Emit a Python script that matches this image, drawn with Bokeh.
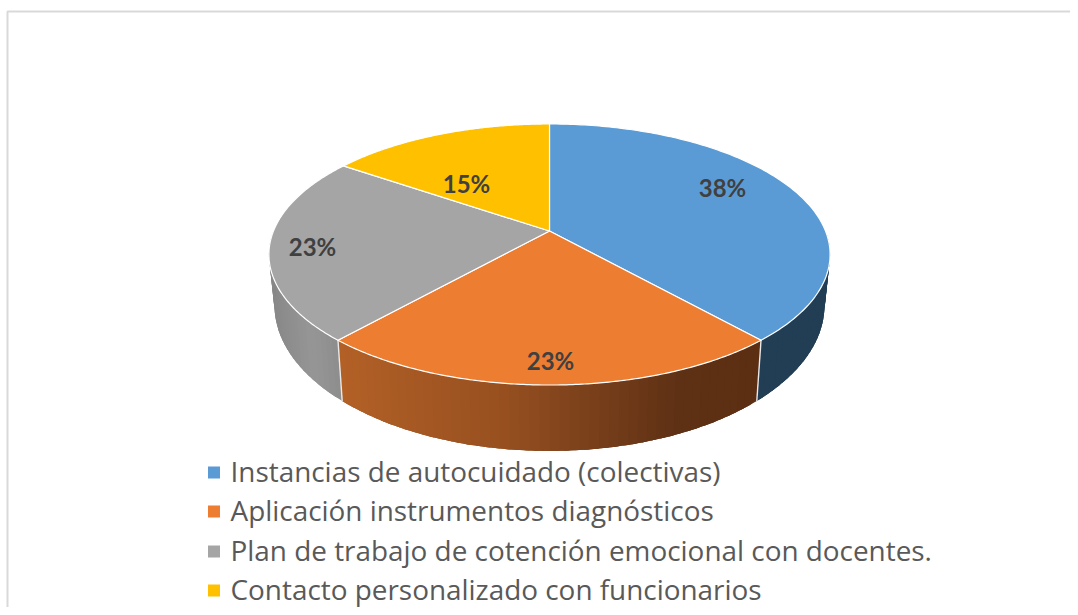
import numpy as np
from bokeh.plotting import figure
from bokeh.models import Range1d
from bokeh.core.properties import value
from bokeh.embed import file_html
from bokeh.resources import INLINE

categories = ["Instancias de autocuidado (colectivas)",
              "Aplicación instrumentos diagnósticos",
              "Plan de trabajo de cotención emocional con docentes.",
              "Contacto personalizado con funcionarios"]
values = [5, 3, 3, 2]
labels = ["38%", "23%", "23%", "15%"]
colors = ["#5B9BD5", "#ED7D31", "#A5A5A5", "#FFC000"]

W, H = 1070, 607
p = figure(width=W, height=H, output_backend="svg", toolbar_location=None,
           x_range=Range1d(0, W), y_range=Range1d(H, 0),
           min_border=0, outline_line_color=None, background_fill_color="white")
p.axis.visible = False
p.grid.visible = False

# chart-area frame
p.line([7, 7, W], [H, 11, 11], line_color="#D9D9D9", line_width=2)

# perspective of the pie disc
CX, TOP_Y, K, A, C = 549.0, 230.5, 276.0, 126.3, 0.18
BOT_Y, K2, A2 = 278.5, 270.5, 141.0

def rim(th, cy, k, a):
    x, y = np.sin(th), np.cos(th)
    d = 1 + C * y
    return CX + k * x / d, cy - a * y / d

def top(th):
    return rim(th, TOP_Y, K, A)

def low(th):
    return rim(th, BOT_Y, K2, A2)

def lerp(stops, t):
    xs = [s[0] for s in stops]
    return "#%02x%02x%02x" % tuple(int(round(np.interp(t, xs, [s[1][i] for s in stops]))) for i in range(3))

wall_stops = [
    [(270, (34, 62, 85)), (828, (34, 62, 85))],
    [(340, (178, 96, 38)), (500, (152, 80, 32)), (600, (118, 62, 26)), (680, (94, 48, 20)), (763, (92, 46, 18))],
    [(270, (136, 136, 136)), (310, (150, 150, 150)), (345, (138, 138, 138))],
    [(270, (130, 100, 0)), (828, (130, 100, 0))],
]

fr = np.cumsum([0] + values) / sum(values) * 2 * np.pi
VIS_A, VIS_B = np.pi / 2, 3 * np.pi / 2

# side walls: every strip reaches past its neighbour and the next one paints over it
for i in range(len(values)):
    a, b = max(fr[i], VIS_A), min(fr[i + 1], VIS_B)
    if b <= a:
        continue
    n = max(2, int((b - a) / 0.03))
    ths = np.linspace(a, b, n + 1)
    for j in range(n):
        t0 = ths[j]
        seg = np.linspace(t0, min(ths[j] + 2.5 * (b - a) / n, b), 6)
        tx, ty = top(seg)
        lx, ly = low(seg[::-1])
        cx = (top(ths[j])[0] + top(ths[j + 1])[0]) / 2
        c = lerp(wall_stops[i], cx)
        p.patch(list(tx) + list(lx), list(ty) + list(ly), fill_color=c, line_color=None)

# wall separators
for b in fr[1:-1]:
    if VIS_A < b < VIS_B:
        x0, y0 = top(b); x1, y1 = low(b)
        p.line([x0, x1], [y0, y1], line_color="#E9E9E9", line_width=1.4)

# top faces
for i in range(len(values)):
    ths = np.linspace(fr[i], fr[i + 1], 160)
    xs, ys = top(ths)
    p.patch([CX] + list(xs), [TOP_Y] + list(ys), fill_color=colors[i],
            line_color="white", line_width=1.2, line_join="round")

# data labels
label_x = [722, 550, 312, 466]
label_y = [187, 360, 246, 183]
p.text(label_x, label_y, text=labels, text_align="center", text_baseline="middle",
       text_color="#404040", text_font=value("Lato"), text_font_style="bold",
       text_font_size="24px")

# legend
leg_y = [472, 511, 551, 590]
text_y = [470, 509, 549, 588]
p.scatter([213.5] * 4, leg_y, marker="square", size=12, fill_color=colors, line_color=None)
p.text([230] * 4, text_y, text=categories, text_align="left", text_baseline="middle",
       text_color="#595959", text_font=value("Open Sans"), text_font_size="27.9px")

open("out.html", "w").write(file_html(p, INLINE))
